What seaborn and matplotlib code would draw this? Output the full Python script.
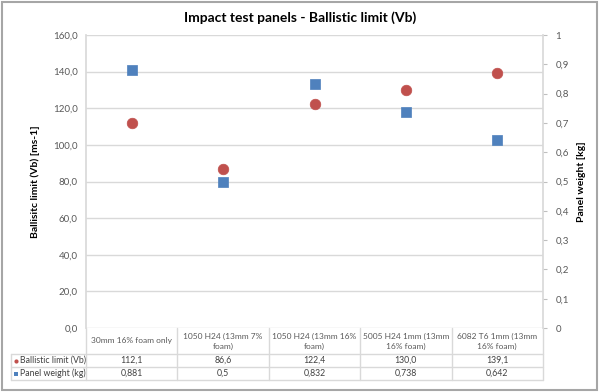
import matplotlib
matplotlib.use("Agg")
import matplotlib.pyplot as plt
import matplotlib.transforms as mtransforms
from matplotlib.patches import Rectangle
from matplotlib.lines import Line2D
from matplotlib.ticker import FixedLocator, FuncFormatter
import seaborn as sns
import pandas as pd

# ---- data ----
categories = ["30mm 16% foam only", "1050 H24 (13mm 7%\nfoam)", "1050 H24 (13mm 16%\nfoam)",
              "5005 H24 1mm (13mm\n16% foam)", "6082 T6 1mm (13mm\n16% foam)"]
ballistic = [112.1, 86.6, 122.4, 130.0, 139.1]
weight = [0.881, 0.5, 0.832, 0.738, 0.642]
series_names = ["Ballistic limit (Vb)", "Panel weight (kg)"]
title = "Impact test panels - Ballistic limit (Vb)"
left_label = "Ballisitc limit (Vb) [ms-1]"
right_label = "Panel weight [kg]"

RED = "#C0504D"
BLUE = "#4F81BD"
GRID = "#D9D9D9"
TXT = "#595959"

sns.set_theme(style="white")
plt.rcParams["font.family"] = ["Lato", "DejaVu Sans"]

W, H = 600, 392
fig = plt.figure(figsize=(W / 100, H / 100), dpi=100)

def fx(px):
    return px / W

def fy(py):
    return 1 - py / H

L, R, T, B = 86, 543, 35, 328
ax = fig.add_axes([fx(L), fy(B), fx(R) - fx(L), fy(T) - fy(B)])
ax2 = ax.twinx()

df = pd.DataFrame({"cat": categories, "ballistic": ballistic, "weight": weight})
idx = list(range(len(categories)))

sns.scatterplot(x=idx, y=df["ballistic"], ax=ax, color=RED, marker="o", s=58,
                edgecolor=RED, linewidth=0.5, zorder=5)
sns.scatterplot(x=idx, y=df["weight"], ax=ax2, color=BLUE, marker="s", s=55,
                edgecolor=BLUE, linewidth=0.5, zorder=5)

ax.set_xlim(-0.5, len(categories) - 0.5)
ax.set_ylim(0, 160)
ax2.set_ylim(0, 1)
ax.set_xticks([])
ax.set_xlabel("")
ax2.set_xlabel("")

comma = lambda fmt: FuncFormatter(lambda v, p: format(v, fmt).replace(".", ","))
ax.yaxis.set_major_locator(FixedLocator([i * 20 for i in range(9)]))
ax.yaxis.set_major_formatter(comma(".1f"))
ax2.yaxis.set_major_locator(FixedLocator([i / 10 for i in range(11)]))
ax2.yaxis.set_major_formatter(comma("g"))

ax.grid(axis="y", color=GRID, linewidth=1)
ax.tick_params(axis="y", length=0, pad=6, labelsize=7, labelcolor=TXT)
ax2.tick_params(axis="y", length=3, width=0.8, color="#BFBFBF", direction="out",
                pad=6, labelsize=7, labelcolor=TXT)
ax2.grid(False)

for a in (ax, ax2):
    for s in a.spines.values():
        s.set_visible(False)
ax.spines["left"].set_visible(True)
ax.spines["left"].set_color(GRID)
ax2.spines["right"].set_visible(True)
ax2.spines["right"].set_color(GRID)

ax.set_ylabel(left_label, fontsize=7.5, fontweight="bold", color="black", labelpad=9)
ax2.set_ylabel(right_label, fontsize=7.5, fontweight="bold", color="black", labelpad=6)

fig.text(0.5, fy(18), title, ha="center", va="center", fontsize=10, fontweight="bold", color="black")

# ---- data table ----
trans = mtransforms.blended_transform_factory(ax.transData, fig.transFigure)
row_y = [328, 354, 367, 380]
TL = 11
lines = []
for py in row_y[1:]:
    lines.append(Line2D([fx(TL), fx(R)], [fy(py), fy(py)], transform=fig.transFigure,
                        color=GRID, linewidth=1))
lines.append(Line2D([fx(TL), fx(TL)], [fy(row_y[1]), fy(row_y[3])], transform=fig.transFigure,
                    color=GRID, linewidth=1))
for k in range(len(categories) + 1):
    lines.append(Line2D([k - 0.5, k - 0.5], [fy(row_y[0]), fy(row_y[3])], transform=trans,
                        color=GRID, linewidth=1))
for ln in lines:
    fig.add_artist(ln)

for i, c in enumerate(categories):
    fig.text(i, fy((row_y[0] + row_y[1]) / 2), c, transform=trans, ha="center", va="center",
             fontsize=6, color=TXT, linespacing=1.45)
    fig.text(i, fy((row_y[1] + row_y[2]) / 2), format(ballistic[i], ".1f").replace(".", ","),
             transform=trans, ha="center", va="center", fontsize=6.3, color="#404040")
    fig.text(i, fy((row_y[2] + row_y[3]) / 2), format(weight[i], "g").replace(".", ","),
             transform=trans, ha="center", va="center", fontsize=6.3, color="#404040")

for j, (name, col, mk) in enumerate(zip(series_names, [RED, BLUE], ["o", "s"])):
    yc = fy((row_y[j + 1] + row_y[j + 2]) / 2)
    fig.add_artist(Line2D([fx(16)], [yc], transform=fig.transFigure, marker=mk, color=col,
                          markersize=3, markeredgewidth=0, linestyle="none"))
    fig.text(fx(20), yc, name, ha="left", va="center", fontsize=6.3, color="#404040")

# outer frame
fig.add_artist(Rectangle((fx(2), fy(390)), fx(597) - fx(2), fy(2) - fy(390),
                         transform=fig.transFigure, fill=False, edgecolor="#A6A6A6", linewidth=1.5))

fig.savefig("out.png", dpi=100)
